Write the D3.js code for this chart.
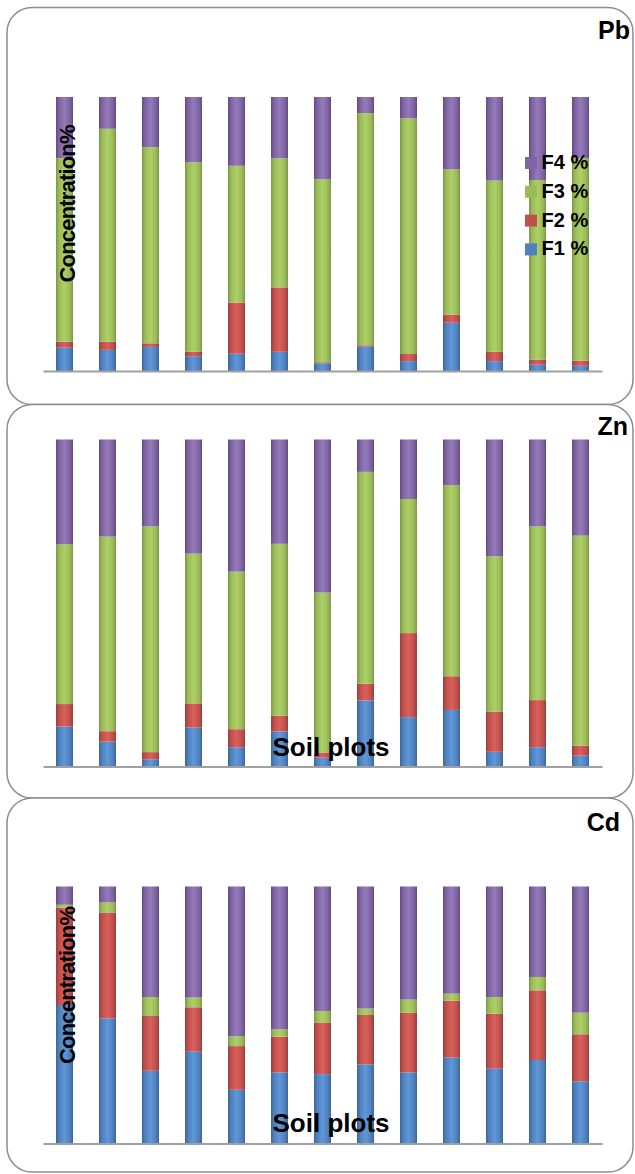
<!DOCTYPE html>
<html>
<head>
<meta charset="utf-8">
<script src="https://cdn.jsdelivr.net/npm/d3@7/dist/d3.min.js"></script>
<style>
  html, body { margin: 0; padding: 0; background: #ffffff; }
  svg { display: block; }
  text { font-family: "Liberation Sans", Arial, Helvetica, sans-serif; font-weight: bold; fill: #000; }
</style>
</head>
<body>
<svg id="chart" width="635" height="1174"></svg>
<script>
// Soil plots and chemical fractions
const plots = ["1", "2", "3", "4", "5", "6", "7", "8", "9", "10", "11", "12", "13"];
const fractions = ["F1 %", "F2 %", "F3 %", "F4 %"];
const legendOrder = ["F4 %", "F3 %", "F2 %", "F1 %"];

// Pb fractions (% of total)
const pbF1 = [8.5, 7.7, 8.8, 5.4, 6.3, 7.0, 2.8, 8.9, 3.6, 17.6, 3.6, 2.3, 1.9];
const pbF2 = [2.2, 3.0, 1.3, 1.6, 18.6, 23.5, 0.4, 0.5, 2.6, 2.9, 3.4, 1.9, 1.9];
const pbF3 = [67.0, 77.7, 71.6, 69.2, 50.0, 47.1, 66.8, 84.7, 86.0, 53.1, 62.5, 65.5, 73.8];
const pbF4 = [22.3, 11.6, 18.3, 23.8, 25.1, 22.4, 30.0, 5.9, 7.8, 26.4, 30.5, 30.3, 22.4];

// Zn fractions (% of total)
const znF1 = [12.2, 7.6, 2.2, 11.9, 5.9, 10.7, 2.7, 20.2, 15.1, 17.3, 4.5, 5.9, 3.3];
const znF2 = [6.9, 3.2, 2.2, 7.4, 5.5, 4.8, 1.6, 5.1, 25.7, 10.3, 12.2, 14.4, 3.1];
const znF3 = [48.9, 59.5, 69.0, 45.8, 48.2, 52.6, 48.9, 64.8, 41.0, 58.4, 47.6, 53.1, 64.2];
const znF4 = [32.0, 29.7, 26.6, 34.9, 40.4, 31.9, 46.8, 9.9, 18.2, 14.0, 35.7, 26.6, 29.4];

// Cd fractions (% of total)
const cdF1 = [53.9, 48.6, 28.3, 35.7, 20.9, 27.7, 27.0, 30.8, 27.7, 33.4, 29.1, 32.5, 24.2];
const cdF2 = [37.8, 41.3, 21.3, 17.3, 17.0, 13.9, 20.1, 19.2, 23.1, 22.2, 21.4, 27.1, 18.3];
const cdF3 = [1.2, 3.9, 7.4, 3.8, 3.8, 2.8, 4.4, 2.5, 5.2, 2.7, 6.4, 5.2, 8.4];
const cdF4 = [7.1, 6.2, 43.0, 43.2, 58.3, 55.6, 48.5, 47.5, 44.0, 41.7, 43.1, 35.2, 49.1];

const metals = ["Pb", "Zn", "Cd"];

// Build stack-ready rows for one metal
function rows(f1, f2, f3, f4) {
  return plots.map((p, i) => ({ plot: p, "F1 %": f1[i], "F2 %": f2[i], "F3 %": f3[i], "F4 %": f4[i] }));
}
const tables = {
  Pb: rows(pbF1, pbF2, pbF3, pbF4),
  Zn: rows(znF1, znF2, znF3, znF4),
  Cd: rows(cdF1, cdF2, cdF3, cdF4)
};

// Panel layout
const panels = {
  Pb: { y0: 7.5, y1: 404.5, top: 97, bottom: 371, title: { x: 630, y: 39 }, yLabel: { x: 75, y: 203.5 }, xLabel: null, legend: true },
  Zn: { y0: 404.5, y1: 798, top: 439.5, bottom: 766.5, title: { x: 628, y: 435 }, yLabel: null, xLabel: { x: 331, y: 756 }, legend: false },
  Cd: { y0: 798, y1: 1172, top: 886.5, bottom: 1143.5, title: { x: 620, y: 831 }, yLabel: { x: 75, y: 985 }, xLabel: { x: 331, y: 1132 }, legend: false }
};

const colors = {
  "F1 %": { base: "#4f81bd", light: "#5f97d8", dark: "#3a6497" },
  "F2 %": { base: "#c0504d", light: "#d9605c", dark: "#983d3a" },
  "F3 %": { base: "#9bbb59", light: "#acd066", dark: "#7a9745" },
  "F4 %": { base: "#8064a2", light: "#937ab8", dark: "#624a80" }
};

const svg = d3.select("#chart");
const defs = svg.append("defs");

// Cylinder-like horizontal shading for the bars
fractions.forEach((f, i) => {
  const g = defs.append("linearGradient")
    .attr("id", "grad" + i)
    .attr("x1", "0%").attr("x2", "100%").attr("y1", "0%").attr("y2", "0%");
  g.append("stop").attr("offset", "0%").attr("stop-color", colors[f].dark);
  g.append("stop").attr("offset", "18%").attr("stop-color", colors[f].base);
  g.append("stop").attr("offset", "50%").attr("stop-color", colors[f].light);
  g.append("stop").attr("offset", "82%").attr("stop-color", colors[f].base);
  g.append("stop").attr("offset", "100%").attr("stop-color", colors[f].dark);
});

const x = d3.scaleBand()
  .domain(plots)
  .range([43, 602])
  .paddingInner(0.605)
  .paddingOuter(0.3025);

const stack = d3.stack().keys(fractions);

metals.forEach(m => {
  const p = panels[m];
  const g = svg.append("g");

  // Rounded frame
  g.append("rect")
    .attr("x", 7).attr("y", p.y0)
    .attr("width", 626).attr("height", p.y1 - p.y0)
    .attr("rx", 25).attr("ry", 25)
    .attr("fill", "#ffffff")
    .attr("stroke", "#8c8c8c")
    .attr("stroke-width", 1.5);

  const y = d3.scaleLinear().domain([0, 100]).range([p.bottom, p.top]);
  const series = stack(tables[m]);

  g.selectAll("g.series")
    .data(series)
    .join("g")
    .attr("class", "series")
    .attr("fill", (d, i) => "url(#grad" + i + ")")
    .selectAll("rect")
    .data(d => d)
    .join("rect")
    .attr("x", d => x(d.data.plot))
    .attr("width", x.bandwidth())
    .attr("y", d => y(d[1]))
    .attr("height", d => Math.max(0, y(d[0]) - y(d[1])));

  // Category axis baseline
  const axis = g.append("g")
    .attr("transform", `translate(0,${p.bottom})`)
    .call(d3.axisBottom(x).tickSize(0).tickFormat(""));
  axis.select(".domain").attr("stroke", "#a0a0a0").attr("stroke-width", 2);

  // Panel title
  g.append("text")
    .attr("x", p.title.x).attr("y", p.title.y)
    .attr("text-anchor", "end")
    .style("font-size", "25px")
    .text(m);

  if (p.yLabel) {
    g.append("text")
      .attr("transform", `translate(${p.yLabel.x},${p.yLabel.y}) rotate(-90)`)
      .attr("text-anchor", "middle")
      .attr("textLength", 158)
      .attr("lengthAdjust", "spacing")
      .style("font-size", "22px")
      .text("Concentration%");
  }

  if (p.xLabel) {
    g.append("text")
      .attr("x", p.xLabel.x).attr("y", p.xLabel.y)
      .attr("text-anchor", "middle")
      .style("font-size", "26px")
      .text("Soil plots");
  }

  if (p.legend) {
    const lg = g.append("g").attr("transform", "translate(525,157)");
    const item = lg.selectAll("g")
      .data(legendOrder)
      .join("g")
      .attr("transform", (d, i) => `translate(0,${i * 28.8})`);
    item.append("rect")
      .attr("width", 12).attr("height", 12)
      .attr("fill", d => colors[d].base);
    item.append("text")
      .attr("x", 16.5).attr("y", 12)
      .style("font-size", "20px")
      .text(d => d);
  }
});
</script>
</body>
</html>
